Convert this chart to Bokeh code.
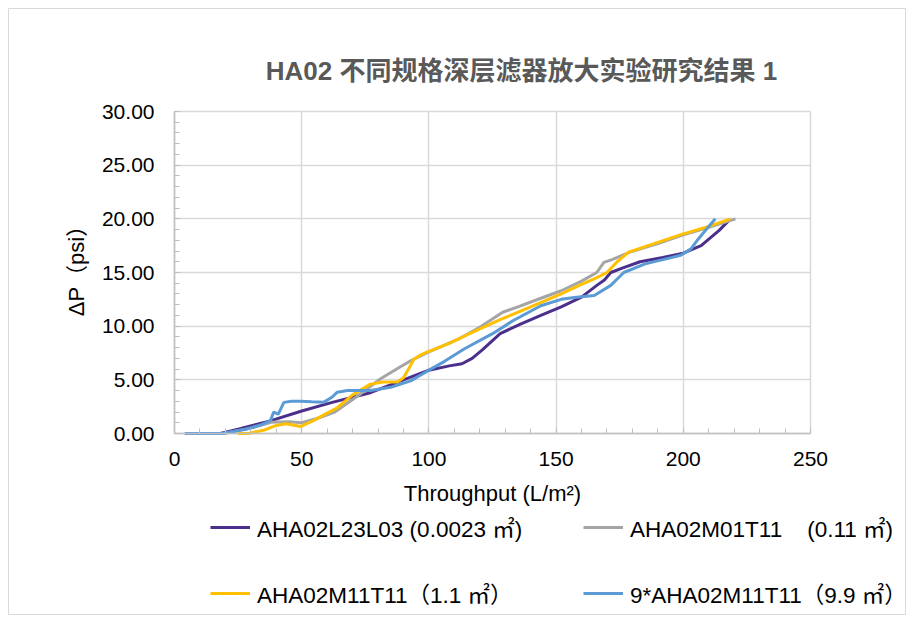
import math
from bokeh.plotting import figure
from bokeh.models import Legend, LegendItem, Label, Range1d, SingleIntervalTicker, PrintfTickFormatter
from bokeh.embed import file_html
from bokeh.resources import INLINE

FONT = "'Liberation Sans', 'Noto Sans CJK SC', sans-serif"

title_text = "HA02 不同规格深层滤器放大实验研究结果 1"
x_label = "Throughput (L/m²)"
y_label = "ΔP（psi）"

names = [
    "AHA02L23L03 (0.0023 ㎡)",
    "AHA02M01T11    (0.11 ㎡)",
    "AHA02M11T11（1.1 ㎡）",
    "9*AHA02M11T11（9.9 ㎡）",
]
colors = ["#4b2f8c", "#a5a5a5", "#ffc000", "#5b9bd5"]

x_min, x_max = 0, 250
y_min, y_max = 0, 30

# AHA02L23L03
x1 = [18, 25, 38, 50, 62, 77, 90, 100, 108, 113, 117, 121, 128, 136, 144, 152, 160, 166, 169, 171.5, 176, 183, 192, 200, 207, 214, 218.5]
y1 = [0, 0.4, 1.2, 2.1, 2.9, 3.8, 5.0, 5.9, 6.3, 6.5, 7.0, 7.8, 9.3, 10.2, 11.0, 11.8, 12.7, 13.8, 14.3, 15.0, 15.4, 16.0, 16.4, 16.8, 17.5, 18.9, 20.0]

# AHA02M01T11
x2 = [19, 30, 38, 45, 50, 56, 63, 72, 81, 88, 93, 100, 112, 120, 129, 135, 144, 152, 160, 166, 168.8, 172, 179, 190, 200, 210, 220.5]
y2 = [0, 0.5, 1.05, 1.1, 1.0, 1.4, 2.0, 3.5, 5.1, 6.1, 6.8, 7.6, 8.85, 9.9, 11.3, 11.8, 12.6, 13.3, 14.2, 15.0, 15.95, 16.2, 16.9, 17.7, 18.5, 19.2, 20.0]

# AHA02M11T11
x3 = [25, 29, 35, 40, 44, 49.5, 54.6, 60, 64, 70, 77, 82, 87.6, 90, 92, 94, 96.5, 99.5, 108, 116, 128, 140, 152, 160, 165, 170, 174, 178.5, 190, 200, 210, 218.5]
y3 = [0, 0, 0.3, 0.75, 0.9, 0.65, 1.2, 1.9, 2.4, 3.6, 4.6, 4.8, 4.8, 5.2, 6.0, 6.9, 7.3, 7.6, 8.4, 9.3, 10.6, 11.8, 13.0, 13.9, 14.4, 15.0, 16.0, 16.9, 17.8, 18.6, 19.3, 20.0]

# 9*AHA02M11T11
x4 = [4, 12, 19, 28, 34, 37.7, 39, 40.8, 43, 46, 49.5, 54, 58.6, 62, 64, 68, 72, 77, 85, 92.8, 100, 106, 114, 125, 133, 144, 152, 158, 165, 171.5, 176.6, 185, 192, 199, 203, 205.5, 209, 212.6]
y4 = [0, 0, 0, 0.4, 0.8, 1.2, 2.0, 1.8, 2.9, 3.0, 3.0, 2.95, 2.9, 3.4, 3.85, 4.0, 4.0, 4.0, 4.3, 4.9, 5.9, 6.7, 7.9, 9.3, 10.5, 11.9, 12.5, 12.7, 12.85, 13.8, 15.0, 15.8, 16.2, 16.6, 17.2, 18.0, 19.0, 20.0]

series_x = [x1, x2, x3, x4]
series_y = [y1, y2, y3, y4]

# layout in pixels: the frame covers the figure (inset 8px at left/top);
# the data box spans x 174..810 and y 111..433
W, H = 906, 615
B = 8
box_l, box_r, box_t, box_b = 174, 810, 111, 433
ppx = (box_r - box_l) / (x_max - x_min)
ppy = (box_b - box_t) / (y_max - y_min)
xr = Range1d(x_min - (box_l - B) / ppx, x_max + (W - box_r) / ppx)
yr = Range1d(y_min - (H - box_b) / ppy, y_max + (box_t - B) / ppy)

p = figure(width=W, height=H, x_range=xr, y_range=yr,
           output_backend="svg", toolbar_location=None,
           min_border_left=B, min_border_right=0,
           min_border_top=B, min_border_bottom=0)
p.title.visible = False
p.outline_line_color = "#d9d9d9"
p.outline_line_width = 1
p.background_fill_color = "white"
p.border_fill_color = "white"

xt = SingleIntervalTicker(interval=50, num_minor_ticks=5)
yt = SingleIntervalTicker(interval=5, num_minor_ticks=5)
p.xaxis.ticker = xt
p.yaxis.ticker = yt
p.xaxis.fixed_location = y_min
p.yaxis.fixed_location = x_min
p.xaxis.bounds = (x_min, x_max)
p.yaxis.bounds = (y_min, y_max)
p.xgrid.ticker = xt
p.ygrid.ticker = yt
p.xgrid.bounds = (x_min, x_max)
p.ygrid.bounds = (y_min, y_max)
p.xgrid.cross_bounds = (y_min, y_max)
p.ygrid.cross_bounds = (x_min, x_max)
p.yaxis.formatter = PrintfTickFormatter(format="%.2f")

for ax in (p.xaxis, p.yaxis):
    ax.axis_line_color = "#bfbfbf"
    ax.axis_line_width = 1.5
    ax.major_tick_line_color = "#bfbfbf"
    ax.minor_tick_line_color = "#bfbfbf"
    ax.major_tick_in = 6
    ax.major_tick_out = 0
    ax.minor_tick_in = 5
    ax.minor_tick_out = 0
    ax.major_label_text_font = FONT
    ax.major_label_text_font_size = "21px"
    ax.major_label_text_color = "#000000"

p.xaxis.major_label_standoff = 18
p.yaxis.major_label_standoff = 20

for g in (p.xgrid, p.ygrid):
    g.grid_line_color = "#d9d9d9"
    g.grid_line_width = 1.5

items = []
for xs, ys, c, n in zip(series_x, series_y, colors, names):
    r = p.line(xs, ys, line_color=c, line_width=3)
    items.append(LegendItem(label=n, renderers=[r]))

legend = Legend(items=items, location=(210 - B, 6), orientation="horizontal", ncols=2,
                label_text_font=FONT, label_text_font_size="22.5px", label_text_color="#000000",
                glyph_width=40, glyph_height=30, label_height=30, label_width=292,
                label_standoff=7, spacing=34, padding=0, margin=0,
                border_line_color=None, background_fill_alpha=0)
p.add_layout(legend, "center")

title = Label(x=521 - B, y=H - 70, x_units="screen", y_units="screen", text=title_text,
              text_align="center", text_baseline="middle", text_font=FONT,
              text_font_size="26px", text_font_style="bold", text_color="#595959")
p.add_layout(title)

xlab = Label(x=492 - B, y=H - 493, x_units="screen", y_units="screen", text=x_label,
             text_align="center", text_baseline="middle", text_font=FONT,
             text_font_size="22px", text_color="#000000")
p.add_layout(xlab)

ylab = Label(x=76 - B, y=H - 265, x_units="screen", y_units="screen", text=y_label,
             angle=math.pi / 2, text_align="center", text_baseline="middle", text_font=FONT,
             text_font_size="22px", text_color="#000000")
p.add_layout(ylab)

open("out.html", "w").write(file_html(p, INLINE))
